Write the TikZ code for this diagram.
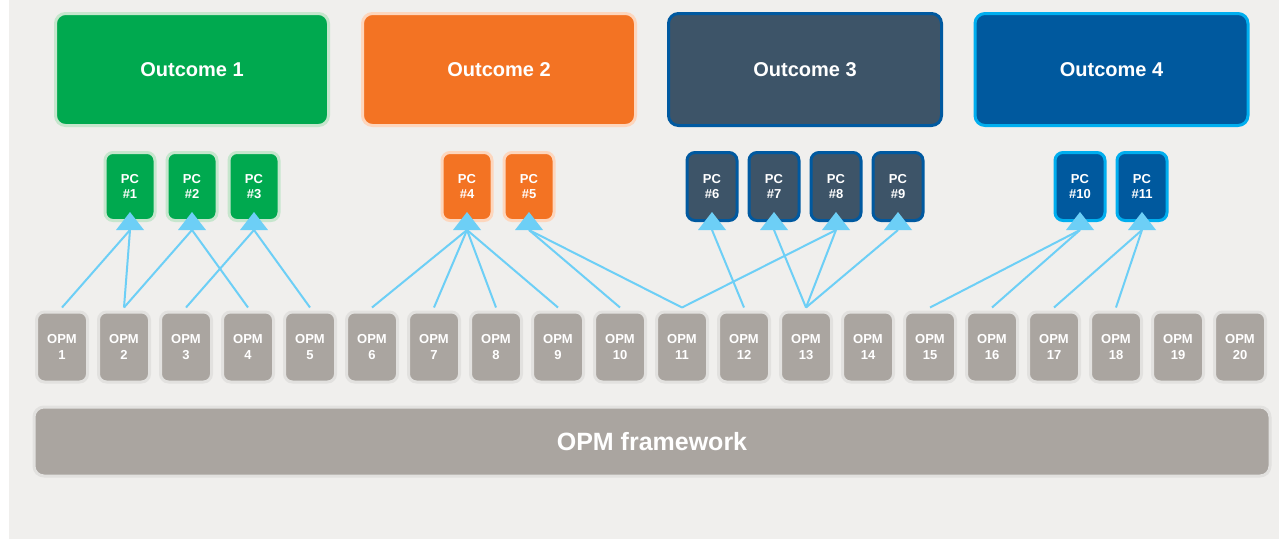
\documentclass[tikz,border=0pt]{standalone}
\usepackage{fontspec}
\setmainfont{Liberation Sans}
\begin{document}
\begin{tikzpicture}[x=1pt,y=-1pt,
  outbox/.style={rounded corners=10pt,line width=3pt,minimum width=273pt,minimum height=112pt,inner sep=0pt,
    text=white,font=\bfseries\fontsize{20}{24}\selectfont},
  pcbox/.style={rounded corners=8pt,line width=3pt,minimum width=50pt,minimum height=68pt,inner sep=0pt,
    text=white,align=center,font=\bfseries\fontsize{13}{15.5}\selectfont},
  opmbox/.style={rounded corners=8pt,line width=3pt,draw=opmedge,fill=opmfill,minimum width=51pt,minimum height=70pt,
    inner sep=0pt,text=white,align=center,font=\bfseries\fontsize{13}{15.5}\selectfont},
  link/.style={draw=linkblue,line width=2pt},
  tip/.style={fill=linkblue}
]
\definecolor{bg}{HTML}{F0EFED}
\definecolor{gfill}{HTML}{00A94F}
\definecolor{gedge}{HTML}{C6E6CD}
\definecolor{ofill}{HTML}{F37323}
\definecolor{oedge}{HTML}{FDD6BD}
\definecolor{sfill}{HTML}{3D5468}
\definecolor{sedge}{HTML}{0059A0}
\definecolor{bfill}{HTML}{00599E}
\definecolor{bedge}{HTML}{00AEEF}
\definecolor{opmfill}{HTML}{AAA5A0}
\definecolor{opmedge}{HTML}{E2E1DF}
\definecolor{linkblue}{HTML}{6DCFF6}

\useasboundingbox (0,0) rectangle (1279,539);
\fill[white] (0,0) rectangle (1279,539);
\fill[bg] (9,0) rectangle (1279,539);

% outcomes
\node[outbox,fill=gfill,draw=gedge] (out1) at (192,69.5) {Outcome 1};
\node[outbox,fill=ofill,draw=oedge] (out2) at (499,69.5) {Outcome 2};
\node[outbox,fill=sfill,draw=sedge] (out3) at (805,69.5) {Outcome 3};
\node[outbox,fill=bfill,draw=bedge] (out4) at (1111.5,69.5) {Outcome 4};

% PCs
\foreach \i/\x/\f/\e in {1/130/gfill/gedge,2/192/gfill/gedge,3/254/gfill/gedge,
  4/467/ofill/oedge,5/529/ofill/oedge,
  6/712/sfill/sedge,7/774/sfill/sedge,8/836/sfill/sedge,9/898/sfill/sedge,
  10/1080/bfill/bedge,11/1142/bfill/bedge}{
  \node[pcbox,fill=\f,draw=\e] (pc\i) at (\x,186.5) {PC\\\#\i};
  \coordinate (in\i) at (\x,230);
}

% OPMs
\foreach \i in {1,...,20}{
  \node[opmbox] (opm\i) at ({62+62*(\i-1)},347) {OPM\\\i};
}

% framework
\node[rounded corners=10pt,line width=3pt,draw=opmedge,fill=opmfill,minimum width=1236pt,minimum height=69pt,
  inner sep=0pt,text=white,font=\bfseries\fontsize{25}{30}\selectfont] (fw) at (652,441.5) {OPM framework};

% links
\foreach \a/\b in {1/1,2/1,2/2,4/2,3/3,5/3,6/4,7/4,8/4,9/4,10/5,11/5,11/8,12/6,13/7,13/8,13/9,15/10,16/10,17/11,18/11}{
  \draw[link] ([yshift=3pt]opm\a.north) -- (in\b);
}

% arrow tips
\foreach \i in {1,...,11}{
  \fill[tip] ([xshift=-14pt]in\i) -- ([yshift=18pt]in\i) -- ([xshift=14pt]in\i) -- cycle;
}
\end{tikzpicture}
\end{document}
